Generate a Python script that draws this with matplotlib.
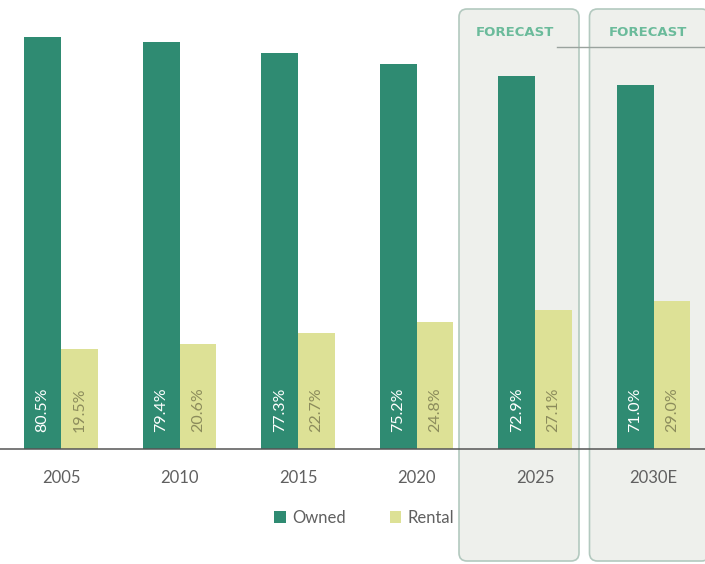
import matplotlib
matplotlib.use("Agg")
import matplotlib.pyplot as plt
from matplotlib.patches import FancyBboxPatch, Patch
import numpy as np

years = ["2005", "2010", "2015", "2020", "2025", "2030E"]
owned = [80.5, 79.4, 77.3, 75.2, 72.9, 71.0]
rental = [19.5, 20.6, 22.7, 24.8, 27.1, 29.0]
forecast_idx = [4, 5]

OWNED_C = "#2f8b72"
RENTAL_C = "#dde196"
BOX_FACE = "#eef0ec"
BOX_EDGE = "#b3c9bf"
FONT = ["Lato", "DejaVu Sans"]
plt.rcParams["font.family"] = FONT

W, H = 705, 564
fig = plt.figure(figsize=(W / 100, H / 100), dpi=100)

# background layer in pixel coords for the forecast panels
bg = fig.add_axes([0, 0, 1, 1])
bg.set_xlim(0, W)
bg.set_ylim(H, 0)
bg.axis("off")

x0, step = 61, 118.5
# panels sit a bit left of the bar groups in the original
for i in forecast_idx:
    cx = x0 + step * i - 16 + (i - 4) * 12
    box = FancyBboxPatch((cx - 60, 9), 120, 552,
                         boxstyle="round,pad=0,rounding_size=8",
                         facecolor=BOX_FACE, edgecolor=BOX_EDGE, lw=1.2)
    bg.add_patch(box)
    bg.text(cx - 4 + (i - 4) * 2, 33, "FORECAST", ha="center", va="center",
            color="#6bbb9b", fontsize=9.5, fontweight="bold",
            family=["DejaVu Sans"])
bg.plot([557, W], [47, 47], color="#9aa39e", lw=1)

# main chart
base_px = 449
ax = fig.add_axes([0, 1 - base_px / H, 1, base_px / H])
ax.patch.set_alpha(0)
px_per_pct = 5.12
ax.set_ylim(0, base_px / px_per_pct)
ax.set_xlim(-x0 / step, (W - x0) / step)

x = np.arange(len(years))
bw = 0.31
ax.bar(x - bw / 2, owned, bw, color=OWNED_C, zorder=2)
ax.bar(x + bw / 2, rental, bw, color=RENTAL_C, zorder=2)

for xi, o, r in zip(x, owned, rental):
    ax.text(xi - bw / 2, 3.3, f"{o:.1f}%", rotation=90, ha="center", va="bottom",
            color="white", fontsize=11.5, zorder=3)
    ax.text(xi + bw / 2, 3.3, f"{r:.1f}%", rotation=90, ha="center", va="bottom",
            color="#8c8c5c", fontsize=11.5, zorder=3)

for s in ["top", "right", "left"]:
    ax.spines[s].set_visible(False)
ax.spines["bottom"].set_color("#555555")
ax.spines["bottom"].set_linewidth(1.1)
ax.set_yticks([])
ax.set_xticks(x)
ax.set_xticklabels(years, fontsize=12, color="#606060")
ax.tick_params(axis="x", length=0, pad=15)

handles = [Patch(facecolor=OWNED_C, label="Owned"),
           Patch(facecolor=RENTAL_C, label="Rental")]
fig.legend(handles=handles, loc="center", bbox_to_anchor=(0.517, 0.082), ncol=2,
           frameon=False, fontsize=12, handlelength=0.7, handleheight=0.7,
           handletextpad=0.4, columnspacing=2.6, labelcolor="#606060")

fig.savefig("out.png", dpi=100)
